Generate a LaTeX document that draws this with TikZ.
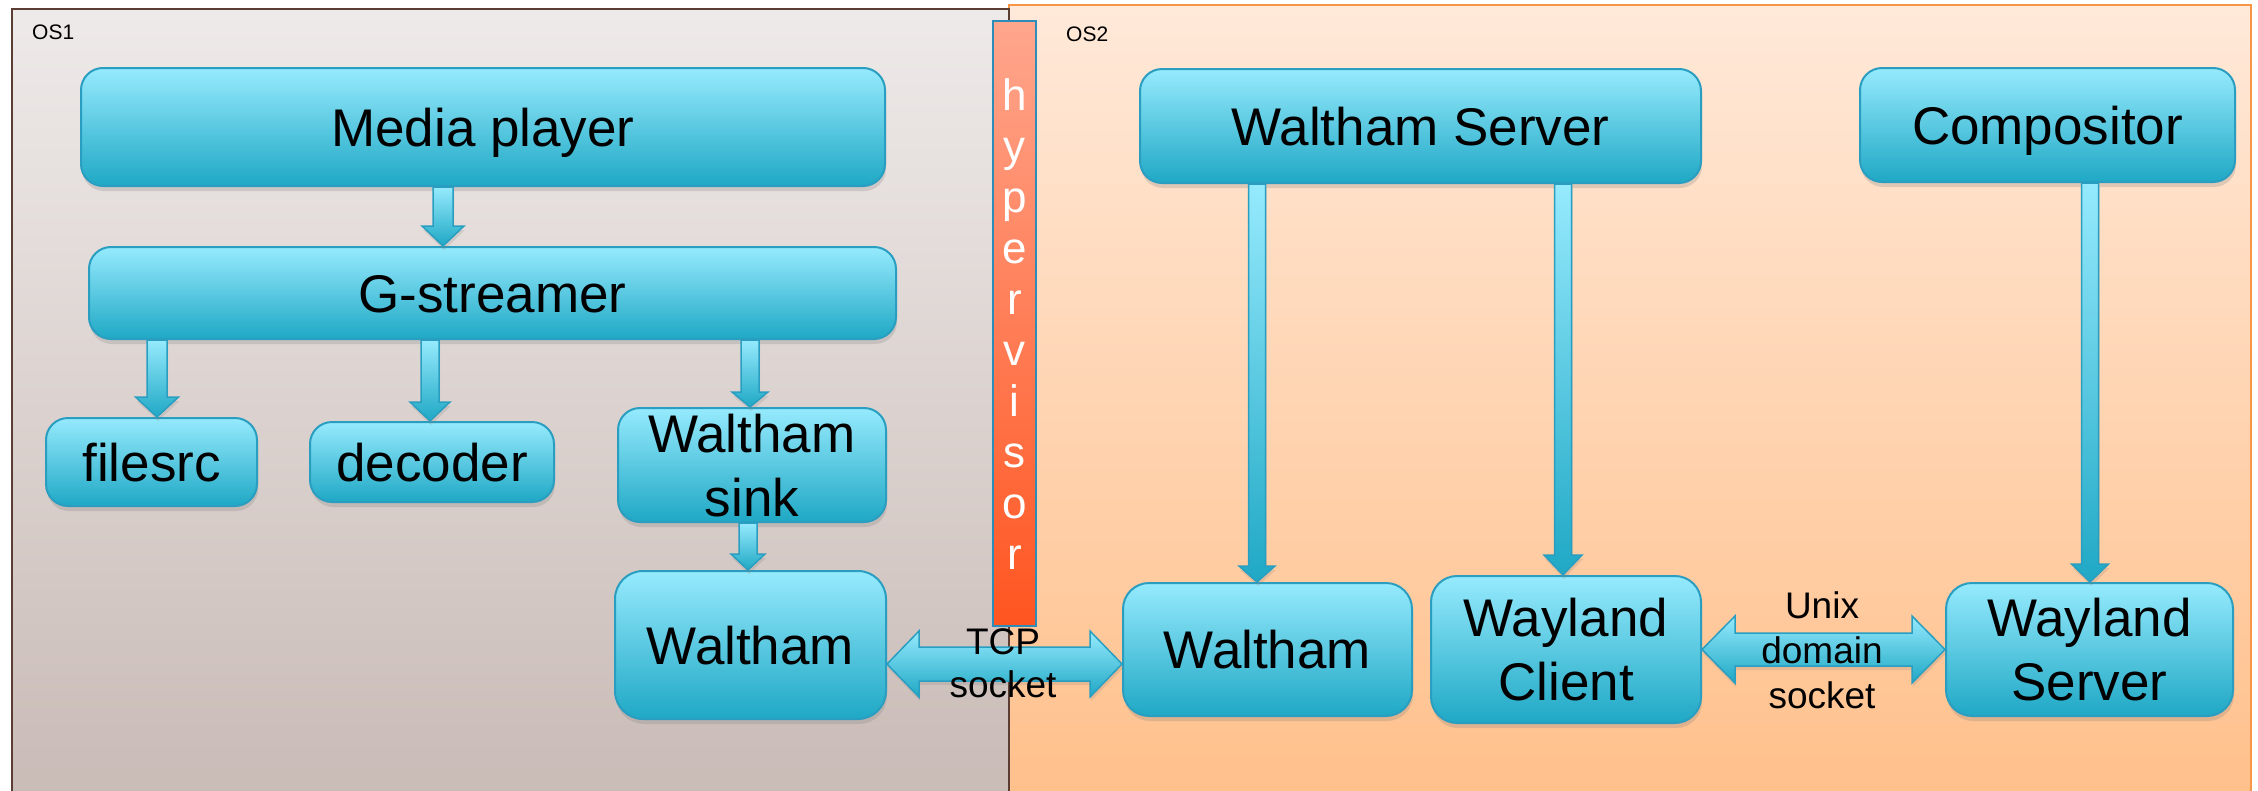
\documentclass[tikz,border=0pt]{standalone}
\usepackage{fontspec}
\setmainfont{Liberation Sans}
\usetikzlibrary{calc,shadows}

\definecolor{boxtop}{HTML}{96EAFD}
\definecolor{boxbot}{HTML}{1FA8C5}
\definecolor{boxline}{HTML}{2A9EC0}
\definecolor{osonetop}{HTML}{EEEAE9}
\definecolor{osonebot}{HTML}{C9BBB6}
\definecolor{osoneline}{HTML}{5C3D33}
\definecolor{ostwotop}{HTML}{FFE9D9}
\definecolor{ostwobot}{HTML}{FFC08B}
\definecolor{ostwoline}{HTML}{F79646}
\definecolor{hvtop}{HTML}{FFA68D}
\definecolor{hvbot}{HTML}{FF5520}
\definecolor{hvline}{HTML}{2E8CB8}

\tikzset{
  procbox/.style={draw=boxline, line width=2pt, rounded corners=22pt,
    top color=boxtop, bottom color=boxbot, inner sep=0pt, align=center,
    font=\fontsize{53}{64}\selectfont, text height=38pt, text depth=0pt,
    drop shadow={shadow xshift=1pt, shadow yshift=-5pt, opacity=0.25}},
  twolines/.style={text height=102pt},
  blockarrow/.style={draw=boxline, line width=1.5pt, line join=miter,
    top color=boxtop, bottom color=boxbot,
    drop shadow={shadow xshift=1pt, shadow yshift=-4pt, opacity=0.2}},
  oslabel/.style={inner sep=0pt, font=\fontsize{21}{25}\selectfont},
  socklabel/.style={inner sep=0pt, align=center, text depth=0pt},
  hvbar/.style={draw=hvline, line width=2pt, top color=hvtop, bottom color=hvbot,
    inner sep=0pt, align=center, text=white,
    font=\fontsize{44}{51}\selectfont, text height=491pt, text depth=0pt},
}

% vertical block arrow: from node, to node, x, shaft half width, head half width, head length
\newcommand\vconn[6]{%
  \path[blockarrow] let \p1=(#1.south), \p2=(#2.north) in
    (#3pt-#4pt,\y1) -- (#3pt+#4pt,\y1) -- (#3pt+#4pt,\y2+#6pt) -- (#3pt+#5pt,\y2+#6pt)
    -- (#3pt,\y2) -- (#3pt-#5pt,\y2+#6pt) -- (#3pt-#4pt,\y2+#6pt) -- cycle;}

% horizontal double block arrow: left node, right node, y, shaft half width, head half width, head length
\newcommand\hconn[6]{%
  \path[blockarrow] let \p1=(#1.east), \p2=(#2.west) in
    (\x1,-#3pt) -- (\x1+#6pt,-#3pt+#5pt) -- (\x1+#6pt,-#3pt+#4pt) -- (\x2-#6pt,-#3pt+#4pt)
    -- (\x2-#6pt,-#3pt+#5pt) -- (\x2,-#3pt) -- (\x2-#6pt,-#3pt-#5pt) -- (\x2-#6pt,-#3pt-#4pt)
    -- (\x1+#6pt,-#3pt-#4pt) -- (\x1+#6pt,-#3pt-#5pt) -- cycle;}

\begin{document}
\begin{tikzpicture}[x=1pt, y=-1pt]
\useasboundingbox (0,0) rectangle (2258,790);

% operating system areas
\path[top color=ostwotop, bottom color=ostwobot] (1009,5) rectangle (2251,800);
\draw[ostwoline, line width=2pt] (1009,800) -- (1009,5) -- (2251,5) -- (2251,800);
\path[top color=osonetop, bottom color=osonebot] (12,9) rectangle (1009,800);
\draw[osoneline, line width=1.5pt] (12,800) -- (12,9) -- (1009,9) -- (1009,800);
\node[oslabel, anchor=base west] (os1) at (32,39) {OS1};
\node[oslabel, anchor=base west] (os2) at (1066,41) {OS2};

% hypervisor
\node[hvbar, minimum width=43pt, minimum height=605pt] (hv) at (1014.5,323.5)
  {h\\y\\p\\e\\r\\v\\i\\s\\o\\r};

% OS1 components
\node[procbox, minimum width=804pt, minimum height=118pt] (mp) at (483,127) {Media player};
\node[procbox, minimum width=807pt, minimum height=92pt] (gs) at (492.5,293) {G-streamer};
\node[procbox, minimum width=211pt, minimum height=88pt] (fs) at (151.5,462) {filesrc};
\node[procbox, minimum width=244pt, minimum height=80pt] (dec) at (432,462) {decoder};
\node[procbox, twolines, minimum width=268pt, minimum height=114pt] (sink) at (752,465) {Waltham\\sink};
\node[procbox, minimum width=271pt, minimum height=148pt, rounded corners=28pt] (wa) at (750.5,645) {Waltham};

% OS2 components
\node[procbox, minimum width=561pt, minimum height=114pt] (wsv) at (1420.5,126) {Waltham Server};
\node[procbox, minimum width=375pt, minimum height=114pt] (cmp) at (2047.5,125) {Compositor};
\node[procbox, minimum width=289pt, minimum height=133pt, rounded corners=26pt] (wb) at (1267.5,649.5) {Waltham};
\node[procbox, twolines, minimum width=270pt, minimum height=147pt, rounded corners=26pt] (wc) at (1566,649.5) {Wayland\\Client};
\node[procbox, twolines, minimum width=287pt, minimum height=133pt, rounded corners=26pt] (wsr) at (2089.5,649.5) {Wayland\\Server};

% connectors
\vconn{mp}{gs}{443}{10}{21}{20}
\vconn{gs}{fs}{157}{10}{21.5}{20}
\vconn{gs}{dec}{430}{9}{20}{19}
\vconn{gs}{sink}{750}{9}{18}{15}
\vconn{sink}{wa}{748}{9}{17}{16}
\vconn{wsv}{wb}{1257}{8.5}{18}{16}
\vconn{wsv}{wc}{1563}{8.5}{19}{20}
\vconn{cmp}{wsr}{2090}{8.5}{18.5}{18}
\hconn{wa}{wb}{664}{17}{33}{32}
\hconn{wc}{wsr}{649.5}{16.5}{33.5}{33}

% link labels
\node[socklabel, font=\fontsize{37}{43}\selectfont, text height=69.5pt] (tcp) at (1003,663) {TCP\\socket};
\node[socklabel, font=\fontsize{37}{45}\selectfont, text height=116.5pt] (unix) at (1822,650) {Unix\\domain\\socket};
\end{tikzpicture}
\end{document}
